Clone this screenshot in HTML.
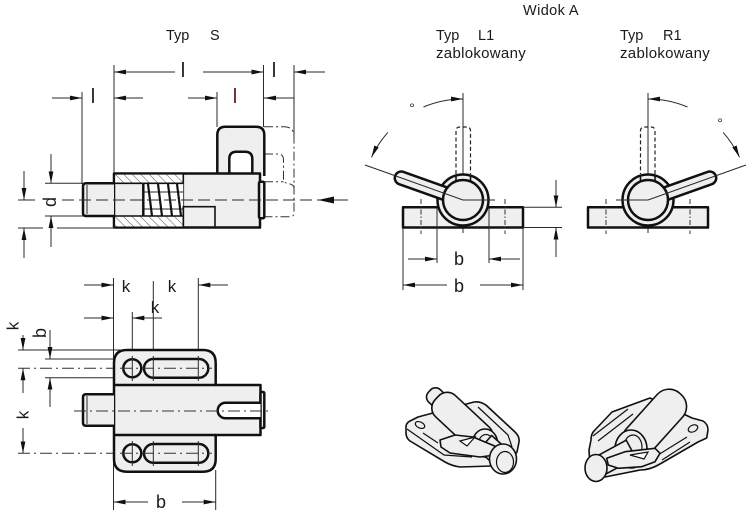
<!DOCTYPE html>
<html><head><meta charset="utf-8"><style>
html,body{margin:0;padding:0;background:#fff;}
svg{display:block;}
text{font-family:"Liberation Sans",sans-serif;fill:#1a1a1a;}
.t{stroke:#2a2a2a;stroke-width:1;fill:none;}
.k{stroke:#111;stroke-width:2.5;fill:#efefef;stroke-linejoin:round;}
.kn{stroke:#111;stroke-width:2.5;fill:none;}
.m{stroke:#111;stroke-width:1.6;fill:none;}
.dd{stroke:#333;stroke-width:1;fill:none;stroke-dasharray:9 3 2 3;}
.ds{stroke:#222;stroke-width:1.2;fill:none;stroke-dasharray:4 2.5;}
.cl{stroke:#333;stroke-width:1;fill:none;stroke-dasharray:12 4 2 4;}
.p3{stroke:#111;stroke-width:1.6;fill:#efefef;stroke-linejoin:round;}
.l3{stroke:#111;stroke-width:1.2;fill:none;}
</style></head><body>
<svg width="750" height="514" viewBox="0 0 750 514" xmlns="http://www.w3.org/2000/svg">
<defs>
<marker id="a" viewBox="0 -3 12 6" refX="12" refY="0" markerWidth="12" markerHeight="6" orient="auto" markerUnits="userSpaceOnUse"><path d="M0,-2.4 L12,0 L0,2.4z" fill="#111"/></marker>
<marker id="b" viewBox="0 -4 16 8" refX="16" refY="0" markerWidth="16" markerHeight="8" orient="auto" markerUnits="userSpaceOnUse"><path d="M0,-3.5 L16,0 L0,3.5z" fill="#111"/></marker>
<pattern id="h" width="6" height="6" patternUnits="userSpaceOnUse" patternTransform="rotate(-45)"><rect width="6" height="6" fill="#fff"/><line x1="0" y1="0" x2="0" y2="6" stroke="#444" stroke-width="0.9"/></pattern>
</defs>
<rect width="750" height="514" fill="#fff"/>

<!-- ================= TYP S ================= -->
<text x="166" y="40" font-size="14.5">Typ</text>
<text x="210" y="40" font-size="14.5">S</text>

<line class="t" x1="82" y1="92" x2="82" y2="184"/>
<line class="t" x1="114" y1="65" x2="114" y2="174"/>
<line class="t" x1="217" y1="92" x2="217" y2="127"/>
<line class="t" x1="263.5" y1="65" x2="263.5" y2="127"/>
<line class="t" x1="294" y1="65" x2="294" y2="135"/>
<line class="t" x1="175" y1="72" x2="114" y2="72" marker-end="url(#a)"/>
<line class="t" x1="203" y1="72" x2="263.5" y2="72" marker-end="url(#a)"/>
<line class="t" x1="325" y1="72" x2="294" y2="72" marker-end="url(#a)"/>
<text x="183" y="77" font-size="20" text-anchor="middle">l</text>
<text x="274" y="77" font-size="20" text-anchor="middle">l</text>
<line class="t" x1="52" y1="98" x2="82" y2="98" marker-end="url(#a)"/>
<line class="t" x1="143" y1="98" x2="114" y2="98" marker-end="url(#a)"/>
<line class="t" x1="188" y1="98" x2="217" y2="98" marker-end="url(#a)"/>
<line class="t" x1="294" y1="98" x2="264" y2="98" marker-end="url(#a)"/>
<text x="93" y="103" font-size="20" text-anchor="middle">l</text>
<text x="235" y="103" font-size="20" text-anchor="middle" style="fill:#5e1a14">l</text>

<path class="dd" d="M264,126.7 H284 Q294,126.7 294,137 V213 Q294,216.7 290,216.7 H264"/>
<path class="dd" d="M264,154 H278 Q283.5,154 283.5,160 V180 Q283.5,183 290,184 Q294,185 294,188"/>
<path class="dd" d="M264,181.7 H283.5"/>

<path class="k" d="M217.3,176 V135 Q217.3,126.7 225.5,126.7 H256 Q264.3,126.7 264.3,135 V176"/>
<path class="kn" d="M229.3,176 V159 Q229.3,151.7 236.5,151.7 H245 Q252.3,151.7 252.3,159 V176" style="fill:#fff"/>

<rect class="k" x="114" y="173.5" width="146" height="54"/>
<rect x="259" y="181.7" width="5.3" height="36.6" rx="1.5" class="k"/>
<rect x="115.2" y="174.7" width="68" height="8.6" fill="url(#h)"/>
<rect x="115.2" y="216.3" width="68" height="10.2" fill="url(#h)"/>
<line class="m" x1="183.3" y1="174" x2="183.3" y2="227"/>
<rect x="143.3" y="183.3" width="40" height="33" fill="#fff"/>
<line class="t" x1="143" y1="192" x2="183" y2="192"/>
<line class="t" x1="143" y1="209" x2="183" y2="209"/>
<g stroke="#111" stroke-width="2.2">
<line x1="148" y1="184" x2="152" y2="216"/>
<line x1="158" y1="184" x2="162" y2="216"/>
<line x1="168" y1="184" x2="172" y2="216"/>
<line x1="177" y1="184" x2="181" y2="216"/>
</g>
<path class="k" d="M114,183.3 H86 Q83,183.3 83,186.3 V213 Q83,216 86,216 H114"/>
<line class="t" x1="87" y1="185" x2="87" y2="214"/>
<line class="m" x1="114" y1="183.3" x2="143.3" y2="183.3"/>
<line class="m" x1="114" y1="216" x2="143.3" y2="216"/>
<line class="kn" x1="143.3" y1="183.3" x2="143.3" y2="216"/>
<line class="m" x1="143.3" y1="183.3" x2="183.3" y2="183.3"/>
<line class="m" x1="143.3" y1="216" x2="183.3" y2="216"/>
<rect class="m" x="183.3" y="206.7" width="31.7" height="20.8"/>
<line class="t" x1="18" y1="200" x2="35" y2="200"/>
<line class="t" x1="62" y1="200" x2="348" y2="200" style="stroke-dasharray:12 5"/>
<line class="t" x1="348" y1="200" x2="318" y2="200" marker-end="url(#b)"/>
<line class="t" x1="51" y1="154" x2="51" y2="183.3" marker-end="url(#a)"/>
<line class="t" x1="51" y1="247" x2="51" y2="216" marker-end="url(#a)"/>
<line class="t" x1="45" y1="183.3" x2="83" y2="183.3"/>
<line class="t" x1="45" y1="216" x2="83" y2="216"/>
<line class="t" x1="24" y1="171" x2="24" y2="200" marker-end="url(#a)"/>
<line class="t" x1="24" y1="258" x2="24" y2="228" marker-end="url(#a)"/>
<line class="t" x1="18" y1="228" x2="43" y2="228"/>
<line class="t" x1="57" y1="228" x2="115" y2="228"/>
<text transform="translate(56,202) rotate(-90)" font-size="18" text-anchor="middle">d</text>

<!-- ================= WIDOK A ================= -->
<text x="523" y="15" font-size="14.5" letter-spacing="0.4">Widok  A</text>
<text x="436" y="40" font-size="14.5">Typ</text>
<text x="478" y="40" font-size="14.5">L1</text>
<text x="436" y="58" font-size="15" letter-spacing="0.3">zablokowany</text>
<text x="620" y="40" font-size="14.5">Typ</text>
<text x="663" y="40" font-size="14.5">R1</text>
<text x="620" y="58" font-size="15" letter-spacing="0.3">zablokowany</text>

<g id="core">
<line class="t" x1="463" y1="93" x2="463" y2="233"/>
<rect class="k" x="403" y="207.3" width="120" height="20.2"/>
<line x1="421" y1="199" x2="421" y2="234" stroke="#333" stroke-width="1" stroke-dasharray="5 2 1.5 2"/>
<line x1="505" y1="199" x2="505" y2="234" stroke="#333" stroke-width="1" stroke-dasharray="5 2 1.5 2"/>
<path class="ds" d="M456,174 V131 Q456,127 460,127 H466.5 Q470.5,127 470.5,131 V174"/>
<circle class="k" cx="463" cy="200" r="25.5"/>
<g transform="translate(463,200) rotate(199.6)"><rect class="k" x="0" y="-6.5" width="72" height="13" rx="6.5"/></g>
<circle class="k" cx="463" cy="200" r="20"/>
<line class="m" x1="456" y1="174.5" x2="456" y2="180.5"/>
<line class="m" x1="470.5" y1="174.5" x2="470.5" y2="180.5"/>
<line class="t" x1="365" y1="165" x2="463" y2="200"/>
<line class="t" x1="463" y1="200" x2="495" y2="200"/>
<path class="t" d="M423.5,107 A101,101 0 0 1 463,99" marker-end="url(#a)"/>
<path class="t" d="M387.9,132.4 A101,101 0 0 0 371.5,157.3" marker-end="url(#a)"/>
</g>
<use href="#core" transform="matrix(-1,0,0,1,1111,0)"/>
<text x="412" y="113" font-size="14" text-anchor="middle">°</text>
<text x="720" y="128" font-size="14" text-anchor="middle">°</text>

<line class="t" x1="403" y1="228" x2="403" y2="290"/>
<line class="t" x1="523" y1="228" x2="523" y2="290"/>
<line class="t" x1="437" y1="208" x2="437" y2="263"/>
<line class="t" x1="489" y1="208" x2="489" y2="263"/>
<line class="t" x1="447" y1="285" x2="403" y2="285" marker-end="url(#a)"/>
<line class="t" x1="480" y1="285" x2="523" y2="285" marker-end="url(#a)"/>
<line class="t" x1="408" y1="259" x2="437" y2="259" marker-end="url(#a)"/>
<line class="t" x1="520" y1="259" x2="489" y2="259" marker-end="url(#a)"/>
<text x="459" y="265" font-size="18" text-anchor="middle">b</text>
<text x="459" y="292" font-size="18" text-anchor="middle">b</text>
<line class="t" x1="523" y1="207.3" x2="562" y2="207.3"/>
<line class="t" x1="523" y1="227.5" x2="562" y2="227.5"/>
<line class="t" x1="556" y1="180" x2="556" y2="207.3" marker-end="url(#a)"/>
<line class="t" x1="556" y1="257" x2="556" y2="227.5" marker-end="url(#a)"/>

<!-- ================= BOTTOM LEFT ================= -->
<line class="t" x1="113.5" y1="278" x2="113.5" y2="510"/>
<line class="t" x1="132.3" y1="312" x2="132.3" y2="465"/>
<line class="t" x1="153.3" y1="281" x2="153.3" y2="465"/>
<line class="t" x1="198.3" y1="278" x2="198.3" y2="465"/>
<line class="t" x1="215.7" y1="470" x2="215.7" y2="510"/>
<line class="t" x1="84" y1="285" x2="113.5" y2="285" marker-end="url(#a)"/>
<line class="t" x1="228" y1="285" x2="198.3" y2="285" marker-end="url(#a)"/>
<line class="t" x1="84" y1="318" x2="113.5" y2="318" marker-end="url(#a)"/>
<line class="t" x1="162" y1="318" x2="132.3" y2="318" marker-end="url(#a)"/>
<text x="126" y="292" font-size="17" text-anchor="middle">k</text>
<text x="172" y="292" font-size="17" text-anchor="middle">k</text>
<text x="155" y="313" font-size="17" text-anchor="middle">k</text>

<line class="t" x1="18" y1="350" x2="127" y2="350"/>
<line class="t" x1="45" y1="359" x2="132" y2="359"/>
<line class="t" x1="45" y1="377.7" x2="132" y2="377.7"/>
<line class="cl" x1="18" y1="368.3" x2="212" y2="368.3"/>
<line class="cl" x1="18" y1="453.3" x2="212" y2="453.3"/>
<line class="t" x1="23" y1="335" x2="23" y2="350" marker-end="url(#a)"/>
<line class="t" x1="50" y1="330" x2="50" y2="359" marker-end="url(#a)"/>
<line class="t" x1="23" y1="393" x2="23" y2="368.3" marker-end="url(#a)"/>
<line class="t" x1="23" y1="428" x2="23" y2="453.3" marker-end="url(#a)"/>
<line class="t" x1="50" y1="407" x2="50" y2="377.7" marker-end="url(#a)"/>
<text transform="translate(18.5,326) rotate(-90)" font-size="17" text-anchor="middle">k</text>
<text transform="translate(46,333) rotate(-90)" font-size="18" text-anchor="middle">b</text>
<text transform="translate(28.5,415) rotate(-90)" font-size="17" text-anchor="middle">k</text>

<path class="k" d="M127,350 H203 Q215.7,350 215.7,363 V385 H260.5 V435 H215.7 V459 Q215.7,471.7 203,471.7 H127 Q114,471.7 114,459 V363 Q114,350 127,350 Z"/>
<line class="kn" x1="114" y1="385" x2="216" y2="385"/>
<line class="kn" x1="114" y1="435" x2="216" y2="435"/>
<rect class="k" x="260.5" y="392" width="3.8" height="36" rx="1.2"/>
<path class="kn" d="M260.5,402.7 H225.5 A7.8,7.8 0 0 0 225.5,418.3 H260.5" style="fill:#fff"/>
<path class="k" d="M114,394.3 H86 Q83,394.3 83,397.3 V422.7 Q83,425.7 86,425.7 H114"/>
<line class="t" x1="87" y1="396" x2="87" y2="424"/>
<circle class="k" cx="132.3" cy="368.3" r="9"/>
<rect class="k" x="144" y="359" width="64.3" height="18.7" rx="9.3"/>
<circle class="k" cx="132.3" cy="453.3" r="9"/>
<rect class="k" x="144" y="444" width="64.3" height="18.7" rx="9.3"/>
<line class="t" x1="132.3" y1="356" x2="132.3" y2="381"/>
<line class="t" x1="153.3" y1="356" x2="153.3" y2="381"/>
<line class="t" x1="198.3" y1="356" x2="198.3" y2="381"/>
<line class="t" x1="132.3" y1="441" x2="132.3" y2="466"/>
<line class="t" x1="153.3" y1="441" x2="153.3" y2="466"/>
<line class="t" x1="198.3" y1="441" x2="198.3" y2="466"/>
<line class="cl" x1="120" y1="368.3" x2="212" y2="368.3"/>
<line class="cl" x1="120" y1="453.3" x2="212" y2="453.3"/>
<line class="cl" x1="74" y1="411" x2="272" y2="411"/>
<line class="t" x1="148" y1="502" x2="113.5" y2="502" marker-end="url(#a)"/>
<line class="t" x1="182" y1="502" x2="215.7" y2="502" marker-end="url(#a)"/>
<text x="161" y="508" font-size="18" text-anchor="middle">b</text>

<!-- ================= 3D LEFT ================= -->
<path class="p3" d="M410,421 L418,417 L474,402 Q481,401 487,406 L515,432 Q520,437 519,442 L517,452 Q515,456 510,458 L492,466 L460,467 Q452,466 445,462 L410,441 Q406,438 406,433 L406,427 Q406,423 410,421 Z"/>
<path class="l3" d="M407,429 L444,455 L472,457"/>
<ellipse class="l3" cx="420" cy="425" rx="5" ry="3" transform="rotate(25 420 425)"/>
<path class="l3" d="M423,433 L438,443"/>
<path class="l3" d="M478,407 L508,435 L512,447"/>
<path class="l3" d="M486,405 L514,431"/>
<g transform="translate(485,443) rotate(223)">
<rect class="p3" x="58" y="-8.5" width="18" height="17" rx="7"/>
<rect class="p3" x="-4" y="-14.5" width="70" height="29" rx="12"/>
</g>
<ellipse class="p3" cx="485" cy="443" rx="12.5" ry="14"/>
<ellipse class="l3" cx="486" cy="444" rx="7.5" ry="9.5"/>
<g transform="translate(485,443) rotate(41.6)"><rect class="p3" x="0" y="-10" width="24" height="20"/></g>
<path class="p3" d="M440,440 L455,435 L473,437 L497,447 L495,455 L480,457 L450,453 L441,447 Z"/>
<path class="l3" d="M460,441 L475,437 L467,446 Z" style="fill:#fff"/>
<ellipse class="p3" cx="503" cy="459" rx="13.5" ry="15"/>
<ellipse class="l3" cx="505" cy="462" rx="8.5" ry="10.5"/>

<!-- ================= 3D RIGHT ================= -->
<path class="p3" d="M594,431 L612,412 L650,398 L692,418 L703,421 Q708,424 708,430 L706.7,438 L698,442 L660,464 Q650,470 640,470 L605,477 L590,468 L589,450 L591,440 Q591,434 594,431 Z"/>
<path class="l3" d="M593,436 L628,409"/>
<path class="l3" d="M598,441 L633,414"/>
<ellipse class="l3" cx="693" cy="428.5" rx="5" ry="3.3" transform="rotate(-25 693 428.5)"/>
<path class="l3" d="M658,455 L687,437"/>
<path class="l3" d="M662,460 L690,442"/>
<g transform="translate(631,449) rotate(-48)">
<rect class="p3" x="-4" y="-17" width="78" height="34" rx="16"/>
</g>
<ellipse class="p3" cx="631" cy="449" rx="16" ry="19"/>
<ellipse class="l3" cx="633" cy="447" rx="9" ry="12"/>
<g transform="translate(631,449) rotate(151.5)"><rect class="p3" x="0" y="-10" width="38" height="20"/></g>
<path class="p3" d="M606.7,458.3 L625,451.7 L655,448.3 L660,453.3 L655,461.7 L641.7,466.7 L618.3,468.3 L608.3,465 Z"/>
<path class="l3" d="M630,455 L648,452 L644,459 Z" style="fill:#fff"/>
<ellipse class="p3" cx="596" cy="468" rx="11" ry="13.5"/>
</svg>
</body></html>
